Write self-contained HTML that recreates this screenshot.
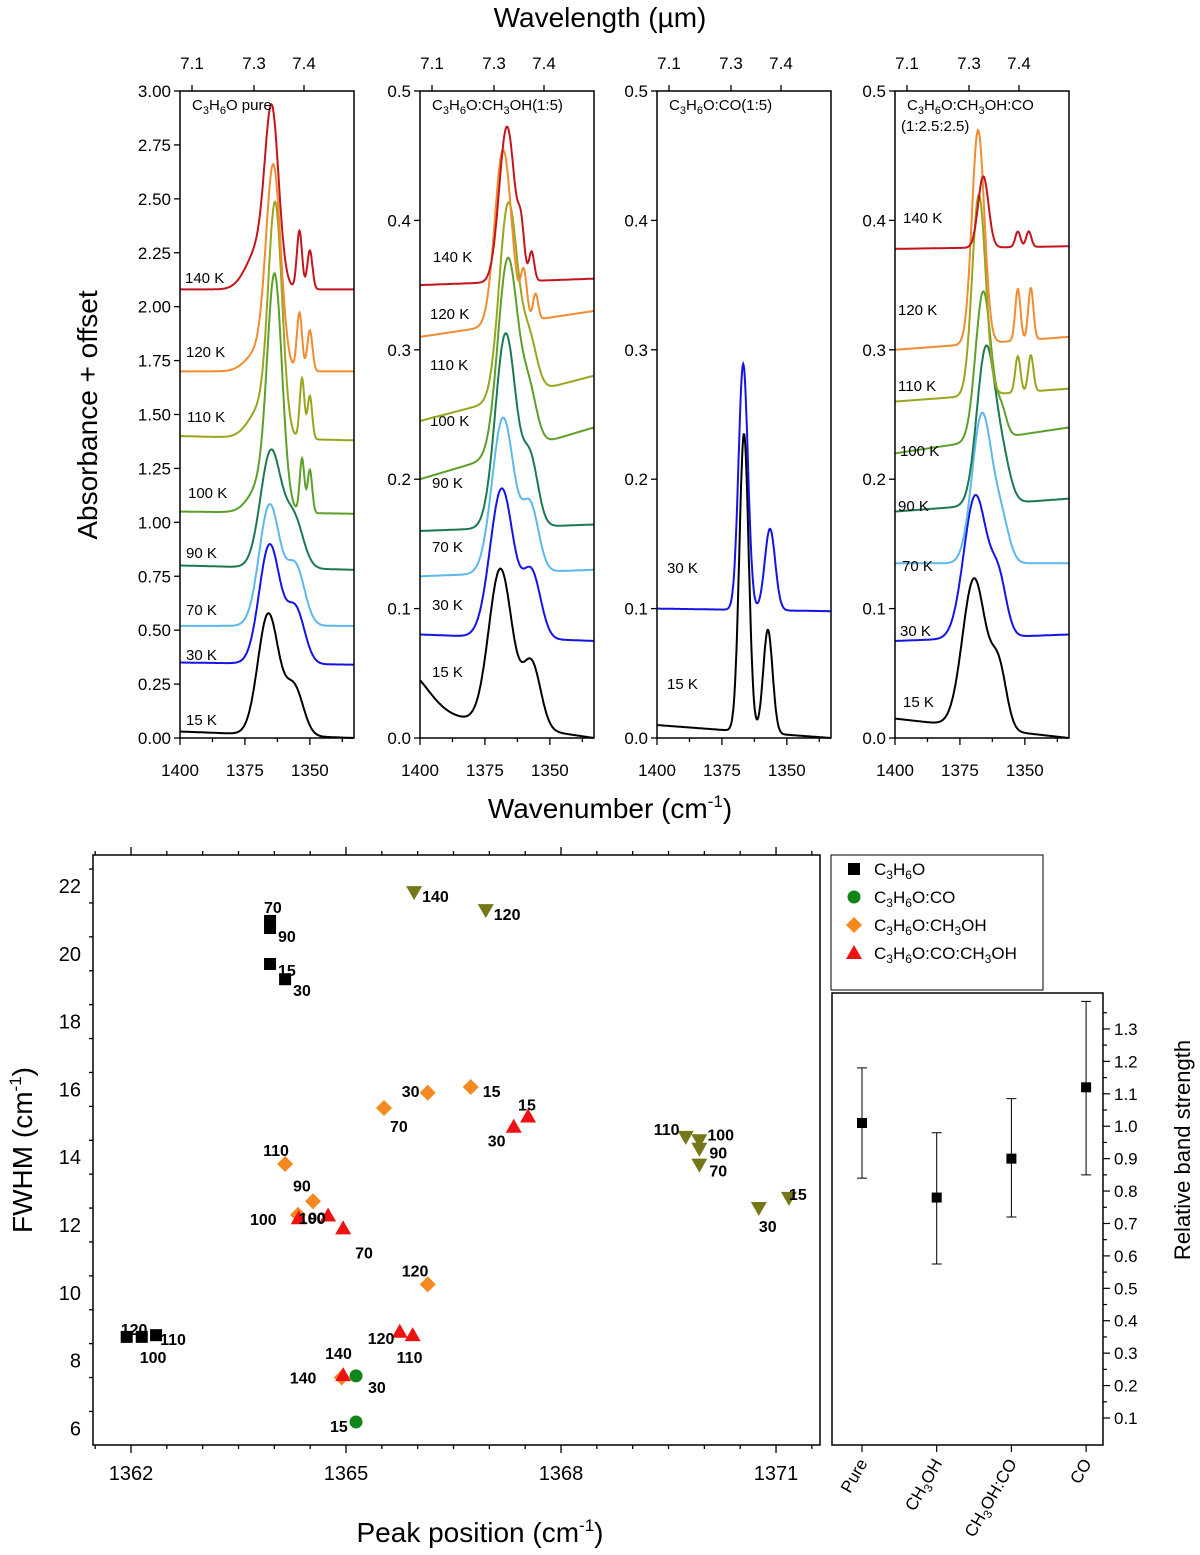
<!DOCTYPE html>
<html><head><meta charset="utf-8"><title>C3H6O spectra and band widths</title>
<style>
html,body{margin:0;padding:0;background:#fff;}
svg{display:block;font-family:"Liberation Sans",Arial,sans-serif;}
</style></head>
<body>
<svg id="fig" width="1200" height="1555" viewBox="0 0 1200 1555" xmlns="http://www.w3.org/2000/svg">
<g id="topPanels"></g>
<g id="bottomChart"></g>
<g id="insetChart"></g>
</svg>
<script>
// ---------- DATA: spectra ----------
const temps = ["15 K","30 K","70 K","90 K","100 K","110 K","120 K","140 K"];
const tempColors = {"15 K":"#000000","30 K":"#1414e6","70 K":"#5db9ec","90 K":"#1b7a50","100 K":"#5c9f2a","110 K":"#9aa51e","120 K":"#f08c32","140 K":"#c3161c"};
const panelTitles = ["C<tspan font-size='11' dy='4'>3</tspan><tspan dy='-4'>H</tspan><tspan font-size='11' dy='4'>6</tspan><tspan dy='-4'>O pure</tspan>",
 "C<tspan font-size='11' dy='4'>3</tspan><tspan dy='-4'>H</tspan><tspan font-size='11' dy='4'>6</tspan><tspan dy='-4'>O:CH</tspan><tspan font-size='11' dy='4'>3</tspan><tspan dy='-4'>OH(1:5)</tspan>",
 "C<tspan font-size='11' dy='4'>3</tspan><tspan dy='-4'>H</tspan><tspan font-size='11' dy='4'>6</tspan><tspan dy='-4'>O:CO(1:5)</tspan>",
 "C<tspan font-size='11' dy='4'>3</tspan><tspan dy='-4'>H</tspan><tspan font-size='11' dy='4'>6</tspan><tspan dy='-4'>O:CH</tspan><tspan font-size='11' dy='4'>3</tspan><tspan dy='-4'>OH:CO</tspan>"];
const panelYMax = [3.0, 0.5, 0.5, 0.5];
const panelYTicks = [[0,0.25,0.5,0.75,1,1.25,1.5,1.75,2,2.25,2.5,2.75,3],[0,0.1,0.2,0.3,0.4,0.5],[0,0.1,0.2,0.3,0.4,0.5],[0,0.1,0.2,0.3,0.4,0.5]];
const panelYDigits = [2,1,1,1];
const pureBase = {"15 K":[0.03,0.0],"30 K":[0.35,0.34],"70 K":[0.52,0.52],"90 K":[0.80,0.78],"100 K":[1.05,1.04],"110 K":[1.40,1.38],"120 K":[1.70,1.70],"140 K":[2.08,2.08]};
const purePeaks = {"15 K":[[1366,0.56,4],[1356,0.22,3.5]],"30 K":[[1365.5,0.55,4],[1355.5,0.25,3.5]],"70 K":[[1365.5,0.56,4],[1355.5,0.27,3.5]],"90 K":[[1365,0.54,4],[1356,0.22,3.5]],
 "100 K":[[1363.5,1.0,2.8],[1367.5,0.15,5],[1353,0.25,0.9],[1350,0.2,0.9]],"110 K":[[1363.3,1.0,2.6],[1368,0.15,5],[1353,0.28,0.9],[1350,0.2,0.9]],
 "120 K":[[1364,0.9,2.8],[1369,0.1,5],[1354,0.27,1],[1350,0.19,1]],"140 K":[[1364.6,0.72,2.6],[1369,0.2,5],[1354,0.27,1],[1350,0.18,1]]};
const methBase = {"15 K":[0.02,0.0],"30 K":[0.08,0.075],"70 K":[0.125,0.13],"90 K":[0.16,0.165],"100 K":[0.20,0.24],"110 K":[0.245,0.28],"120 K":[0.31,0.33],"140 K":[0.35,0.355]};
const methPeaks = {"15 K":[[1405,0.03,8],[1369,0.12,4.5],[1357,0.05,3.5]],"30 K":[[1368.5,0.115,4.5],[1357,0.05,3.5]],"70 K":[[1368,0.12,4.2],[1357.5,0.05,3.2]],"90 K":[[1367,0.15,4],[1357.5,0.05,3]],
 "100 K":[[1366.2,0.15,3.8],[1358,0.04,3]],"110 K":[[1366,0.15,3.5],[1358,0.04,3]],"120 K":[[1368,0.135,3.2],[1360,0.035,1.2],[1355.5,0.02,1]],"140 K":[[1366.5,0.12,3],[1361,0.03,1.2],[1357,0.022,1]]};
const coBase = {"15 K":[0.01,0.0],"30 K":[0.10,0.098]};
const coPeaks = {"15 K":[[1366.5,0.23,1.8],[1357.3,0.08,1.8]],"30 K":[[1366.8,0.19,1.8],[1356.5,0.063,2]]};
const mixBase = {"15 K":[0.015,0.0],"30 K":[0.075,0.08],"70 K":[0.135,0.135],"90 K":[0.175,0.185],"100 K":[0.22,0.24],"110 K":[0.26,0.27],"120 K":[0.30,0.31],"140 K":[0.378,0.38]};
const mixPeaks = {"15 K":[[1369.5,0.115,4.5],[1360,0.045,3]],"30 K":[[1369,0.11,4.5],[1360,0.04,3]],"70 K":[[1366.5,0.115,3.8],[1359,0.03,3]],"90 K":[[1365,0.12,3.5],[1358.5,0.03,3]],
 "100 K":[[1366,0.115,3],[1359,0.02,2]],"110 K":[[1367.7,0.155,2.6],[1352.7,0.028,1],[1347.7,0.028,1]],"120 K":[[1368,0.165,2.4],[1352.7,0.04,1],[1347.7,0.04,1]],"140 K":[[1366,0.055,2],[1352.7,0.012,1],[1348.5,0.012,1]]};
const panelBases = [pureBase, methBase, coBase, mixBase];
const panelPeaks = [purePeaks, methPeaks, coPeaks, mixPeaks];
const wnTicks = [1400,1375,1350];
const wlTicks = ["7.1","7.3","7.4"];

// ---------- DATA: scatter ----------
const pureX=[1363.94,1364.15,1363.94,1363.94,1361.94,1362.15,1362.35];
const pureY=[19.7,19.25,20.97,20.76,8.7,8.7,8.75];
const pureLbl=["15","30","70","90","120","100","110"];
const coX=[1365.14,1365.14]; const coY=[7.55,6.19]; const coLbl=["30","15"];
const methX=[1364.15,1364.54,1364.33,1365.53,1366.14,1366.74,1366.14,1364.94];
const methY=[13.8,12.7,12.3,15.45,15.9,16.07,10.25,7.5];
const methLbl=["110","90","100","70","30","15","120","140"];
const mixX=[1364.34,1364.75,1364.96,1367.34,1367.54,1365.75,1365.93,1364.96];
const mixY=[12.2,12.28,11.9,14.9,15.2,8.85,8.75,7.57];
const mixLbl=["100","90","70","30","15","120","110","140"];
const oliveX=[1365.95,1366.95,1369.74,1369.93,1369.93,1369.93,1370.76,1371.18];
const oliveY=[21.82,21.29,14.6,14.5,14.25,13.78,12.5,12.8];
const oliveLbl=["140","120","110","100","90","70","30","15"];
const fxTicks=[1362,1365,1368,1371];
const fyTicks=[6,8,10,12,14,16,18,20,22];
// ---------- DATA: band strength ----------
const bsCats=["Pure","CH3OH","CH3OH:CO","CO"];
const bsVals=[1.01,0.78,0.90,1.12];
const bsLo=[0.84,0.575,0.72,0.85];
const bsHi=[1.18,0.98,1.085,1.385];
const bsTicks=[0.1,0.2,0.3,0.4,0.5,0.6,0.7,0.8,0.9,1.0,1.1,1.2,1.3];

const pureOff=[[8,6],[8,11],[-6,-14],[8,8],[-6,-8],[-2,20],[4,4]];
const coOff=[[12,11],[-26,4]];
const methOff=[[-22,-14],[-20,-16],[-48,4],[6,18],[-26,-2],[12,4],[-26,-14],[-52,0]];
const mixOff=[[0,0],[-20,2],[12,24],[-26,14],[-10,-12],[-32,6],[-16,22],[-18,-22]];
const oliveOff=[[8,4],[8,4],[-32,-8],[8,-6],[10,4],[10,6],[0,18],[0,-4]];
const tempLabelPos=[
 {"140 K":[185,278],"120 K":[186,352],"110 K":[187,417],"100 K":[188,493],"90 K":[186,553],"70 K":[186,610],"30 K":[186,655],"15 K":[186,720]},
 {"140 K":[433,257],"120 K":[430,314],"110 K":[430,365],"100 K":[430,421],"90 K":[432,483],"70 K":[432,547],"30 K":[432,605],"15 K":[432,672]},
 {"30 K":[667,568],"15 K":[667,684]},
 {"140 K":[903,218],"120 K":[898,310],"110 K":[898,386],"100 K":[900,451],"90 K":[898,506],"70 K":[902,566],"30 K":[900,631],"15 K":[903,702]}];

const NS="http://www.w3.org/2000/svg";
function mk(parent,tag,attrs){const e=document.createElementNS(NS,tag);for(const k in attrs)e.setAttribute(k,attrs[k]);parent.appendChild(e);return e;}
function txt(parent,x,y,s,size,anchor,extra){const t=mk(parent,"text",Object.assign({x:x,y:y,"font-size":size,"text-anchor":anchor||"start",fill:"#000"},extra||{}));t.innerHTML=s;return t;}

// ---------- TOP PANELS ----------
const topG=document.getElementById("topPanels");
const panelLeft=[180,420,657,895];
const PW=174, PT=91, PB=738, WN0=1400, WN1=1333;
for(let p=0;p<4;p++){
  const g=mk(topG,"g",{});
  
  
  const L=panelLeft[p];
  const xs=w=>L+(WN0-w)/(WN0-WN1)*PW;
  const ys=v=>PB-v/panelYMax[p]*(PB-PT);
  const bases=panelBases[p], peaks=panelPeaks[p];
  for(const t of temps){
    if(!bases[t])continue;
    let d="";
    for(let w=WN0;w>=WN1;w-=0.2){
      const f=(WN0-w)/(WN0-WN1);
      let v=bases[t][0]+(bases[t][1]-bases[t][0])*f;
      for(const pk of peaks[t])v+=pk[1]*Math.exp(-((w-pk[0])**2)/(2*pk[2]*pk[2]));
      d+=(d?"L":"M")+xs(w).toFixed(1)+","+ys(v).toFixed(1);
    }
    const path=mk(g,"path",{d:d,fill:"none",stroke:tempColors[t],"stroke-width":2});
    
    
    const lp=tempLabelPos[p][t];
    const lt=txt(g,lp[0],lp[1]+5,t,15);
    
    
  }
  mk(g,"rect",{x:L,y:PT,width:PW,height:PB-PT,fill:"none",stroke:"#000","stroke-width":1.5});
  for(const v of panelYTicks[p]){
    mk(g,"line",{x1:L-6,x2:L,y1:ys(v),y2:ys(v),stroke:"#000","stroke-width":1.3});
    const yl=txt(g,L-9,ys(v)+6,v.toFixed(panelYDigits[p]),17,"end");
    
    
  }
  for(let w=1400;w>=1335;w-=12.5){
    const major=wnTicks.includes(w);
    mk(g,"line",{x1:xs(w),x2:xs(w),y1:PB,y2:PB+(major?7:4),stroke:"#000","stroke-width":1.3});
  }
  for(const w of wnTicks){
    const xl=txt(g,xs(w),PB+38,String(w),17,"middle");
    
    
  }
  const wlOff=[12,74,124];
  wlTicks.forEach((s,i)=>{
    mk(g,"line",{x1:L+wlOff[i],x2:L+wlOff[i],y1:PT-6,y2:PT,stroke:"#000","stroke-width":1.3});
    const tl=txt(g,L+wlOff[i],PT-22,s,17,"middle");
    
    
  });
  const ti=txt(g,L+12,PT+19,panelTitles[p],15);
  
  
  if(p===3){const t2=txt(g,L+6,PT+40,"(1:2.5:2.5)",15);}
}
let a=txt(topG,600,27,"Wavelength (µm)",28,"middle");
a=txt(topG,0,0,"Absorbance + offset",28,"middle",{transform:"translate(97,415) rotate(-90)"});
a=txt(topG,610,818,"Wavenumber (cm<tspan font-size='17' dy='-11'>-1</tspan><tspan dy='11'>)</tspan>",28,"middle");

// ---------- BOTTOM SCATTER ----------
const botG=document.getElementById("bottomChart");
const BL=93,BR=820,BT=855,BB=1445;
const fx=v=>131+(v-1362)*71.67;
const fy=v=>886+(22-v)*33.9;
mk(botG,"rect",{x:BL,y:BT,width:BR-BL,height:BB-BT,fill:"none",stroke:"#000","stroke-width":1.5});
for(let v=1361.5;v<=1372.5;v+=0.5){
  const X=fx(v); if(X<BL||X>BR)continue;
  const major=fxTicks.includes(v);
  mk(botG,"line",{x1:X,x2:X,y1:BB,y2:BB+(major?8:4),stroke:"#000","stroke-width":1.3});
  mk(botG,"line",{x1:X,x2:X,y1:BT,y2:BT-(major?8:4),stroke:"#000","stroke-width":1.3});
}
for(const v of fxTicks){const t=txt(botG,fx(v),BB+35,String(v),20,"middle");}
for(let v=5.5;v<=22.5;v+=1){
  const Y=fy(v); if(Y<BT||Y>BB)continue;
  const major=fyTicks.includes(v);
  mk(botG,"line",{x1:BL-(major?8:4),x2:BL,y1:Y,y2:Y,stroke:"#000","stroke-width":1.3});
}
for(const v of fyTicks){const t=txt(botG,BL-12,fy(v)+7,String(v),20,"end");}
a=txt(botG,480,1542,"Peak position (cm<tspan font-size='17' dy='-11'>-1</tspan><tspan dy='11'>)</tspan>",28,"middle");
a=txt(botG,0,0,"FWHM (cm<tspan font-size='17' dy='-11'>-1</tspan><tspan dy='11'>)</tspan>",28,"middle",{transform:"translate(32,1150) rotate(-90)"});

function marker(g,shape,X,Y,color){
  let e;
  if(shape==="square")e=mk(g,"rect",{x:X-6,y:Y-6,width:12,height:12,fill:color});
  else if(shape==="circle")e=mk(g,"circle",{cx:X,cy:Y,r:6.5,fill:color});
  else if(shape==="diamond")e=mk(g,"polygon",{points:`${X},${Y-8} ${X+8},${Y} ${X},${Y+8} ${X-8},${Y}`,fill:color});
  else if(shape==="tri")e=mk(g,"polygon",{points:`${X},${Y-8} ${X+8},${Y+6} ${X-8},${Y+6}`,fill:color});
  else e=mk(g,"polygon",{points:`${X},${Y+8} ${X+8},${Y-6} ${X-8},${Y-6}`,fill:color});
  return e;
}
function series(name,xs,ys,lbls,offs,shape,color){
  const g=mk(botG,"g",{});
  
  
  xs.forEach((v,i)=>{
    const m=marker(g,shape,fx(v),fy(ys[i]),color);
    
    
    const t=txt(g,fx(v)+offs[i][0],fy(ys[i])+offs[i][1]+6,lbls[i],16,"start",{"font-weight":"bold"});
    
    
  });
}
series("series-olive",oliveX,oliveY,oliveLbl,oliveOff,"itri","#76761a");
series("series-c3h6o",pureX,pureY,pureLbl,pureOff,"square","#000");
series("series-ch3oh",methX,methY,methLbl,methOff,"diamond","#f5891f");
series("series-co",coX,coY,coLbl,coOff,"circle","#10861a");
series("series-co-ch3oh",mixX,mixY,mixLbl,mixOff,"tri","#ee1111");

const lg=mk(botG,"g",{});


mk(lg,"rect",{x:831,y:855,width:212,height:135,fill:"#fff",stroke:"#000","stroke-width":1});
const legNames=["C<tspan font-size='12' dy='4'>3</tspan><tspan dy='-4'>H</tspan><tspan font-size='12' dy='4'>6</tspan><tspan dy='-4'>O</tspan>",
"C<tspan font-size='12' dy='4'>3</tspan><tspan dy='-4'>H</tspan><tspan font-size='12' dy='4'>6</tspan><tspan dy='-4'>O:CO</tspan>",
"C<tspan font-size='12' dy='4'>3</tspan><tspan dy='-4'>H</tspan><tspan font-size='12' dy='4'>6</tspan><tspan dy='-4'>O:CH</tspan><tspan font-size='12' dy='4'>3</tspan><tspan dy='-4'>OH</tspan>",
"C<tspan font-size='12' dy='4'>3</tspan><tspan dy='-4'>H</tspan><tspan font-size='12' dy='4'>6</tspan><tspan dy='-4'>O:CO:CH</tspan><tspan font-size='12' dy='4'>3</tspan><tspan dy='-4'>OH</tspan>"];
const legShapes=["square","circle","diamond","tri"], legColors=["#000","#10861a","#f5891f","#ee1111"];
legNames.forEach((n,i)=>{
  const Y=869+i*28;
  const m=marker(lg,legShapes[i],854,Y,legColors[i]);
  
  
  const t=txt(lg,874,Y+6,n,17);
  
  
});

// ---------- INSET ----------
const insG=document.getElementById("insetChart");
const IL=832,IR=1103,IT=993,IB=1445;
const iy=v=>1418-(v-0.1)*324.2;
const ix=i=>862+i*74.7;
mk(insG,"rect",{x:IL,y:IT,width:IR-IL,height:IB-IT,fill:"none",stroke:"#000","stroke-width":1.5});
for(let k=2;k<=27;k++){
  const v=k*0.05;
  const Y=iy(v); const major=(k%2===0);
  mk(insG,"line",{x1:IR,x2:IR+(major?7:4),y1:Y,y2:Y,stroke:"#000","stroke-width":1.2});
}
for(const v of bsTicks){const t=txt(insG,IR+11,iy(v)+6,v.toFixed(1),17);}
a=txt(insG,0,0,"Relative band strength",22,"middle",{transform:"translate(1190,1150) rotate(-90)"});
const catLbl=["Pure","CH<tspan font-size='12' dy='4'>3</tspan><tspan dy='-4'>OH</tspan>","CH<tspan font-size='12' dy='4'>3</tspan><tspan dy='-4'>OH:CO</tspan>","CO"];
bsCats.forEach((c,i)=>{
  const X=ix(i);
  mk(insG,"line",{x1:X,x2:X,y1:IB,y2:IB+7,stroke:"#000","stroke-width":1.2});
  const t=txt(insG,0,0,catLbl[i],17,"end",{transform:`translate(${X+6},${IB+18}) rotate(-60)`});
  
  
  const eb=mk(insG,"path",{d:`M${X},${iy(bsLo[i])}V${iy(bsHi[i])}M${X-5},${iy(bsLo[i])}H${X+5}M${X-5},${iy(bsHi[i])}H${X+5}`,stroke:"#000","stroke-width":1,fill:"none"});
  
  
  const m=mk(insG,"rect",{x:X-5,y:iy(bsVals[i])-5,width:10,height:10,fill:"#000"});
  
  
});
</script>
</body></html>
